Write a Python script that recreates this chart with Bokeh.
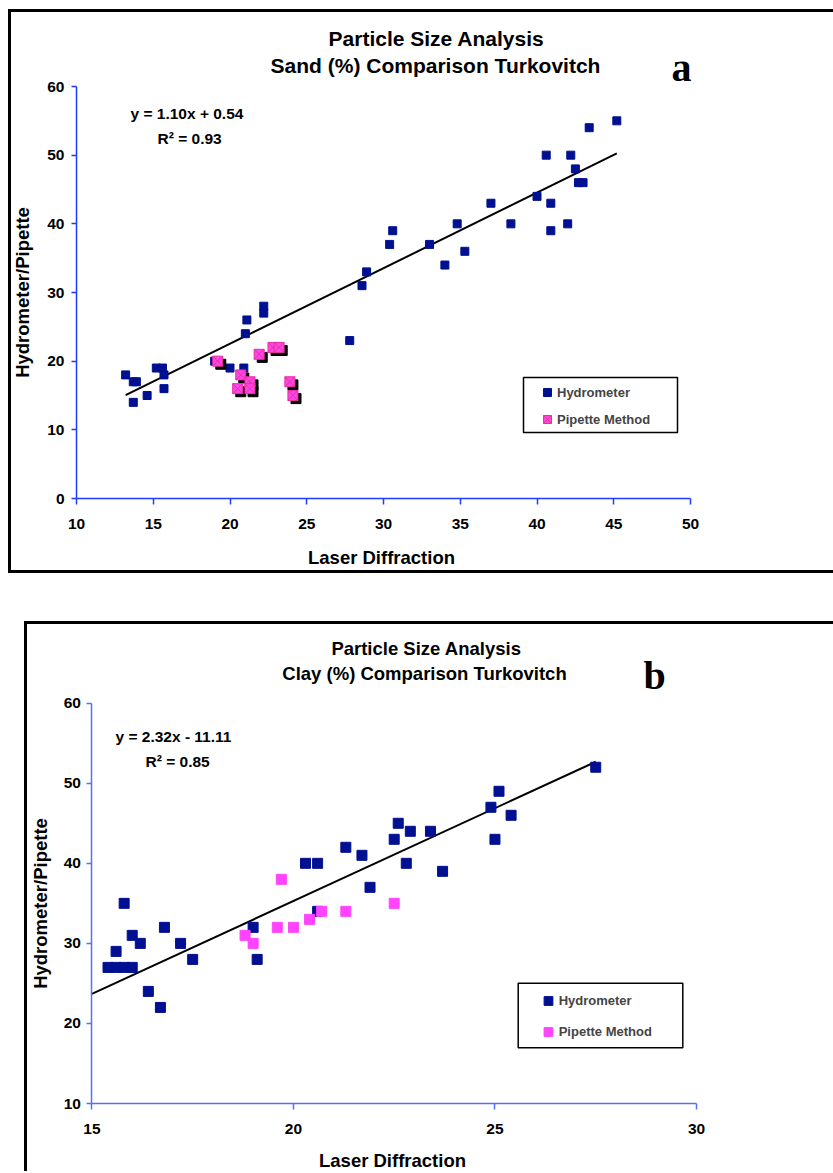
import math
from bokeh.plotting import figure
from bokeh.models import Range1d, FixedTicker, Label, BoxAnnotation, Legend, LegendItem, ColumnDataSource
from bokeh.transform import dodge
from bokeh.embed import file_html
from bokeh.resources import INLINE

# ---------------- data: (a) Sand (%) ----------------
sand_hydro_laser = [13.2, 13.7, 13.9, 13.7, 14.6, 15.2, 15.6, 15.7, 15.7, 19.0, 20.0, 20.9, 21.0, 21.1,
                    22.2, 22.2, 27.8, 28.6, 28.9, 30.4, 30.6, 33.0, 34.0, 34.8, 35.3, 37.0, 38.3, 40.0,
                    40.6, 40.9, 40.9, 42.0, 42.2, 42.5, 42.7, 43.0, 43.4, 45.2]
sand_hydro_hp = [18, 17, 17, 14, 15, 19, 19, 18, 16, 20, 19, 19, 24, 26,
                 28, 27, 23, 31, 33, 37, 39, 37, 34, 40, 36, 43, 40, 44,
                 50, 43, 39, 40, 50, 48, 46, 46, 54, 55]
sand_pip_laser = [19.2, 20.7, 20.5, 21.3, 21.3, 21.9, 22.8, 23.2, 23.9, 24.1]
sand_pip_hp = [20, 18, 16, 17, 16, 21, 22, 22, 17, 15]
sand_slope, sand_intercept, sand_r2 = 1.10, 0.54, 0.93
sand_xticks = [10, 15, 20, 25, 30, 35, 40, 45, 50]
sand_yticks = [0, 10, 20, 30, 40, 50, 60]

# ---------------- data: (b) Clay (%) ----------------
clay_hydro_laser = [15.8, 15.6, 15.4, 15.6, 15.8, 16.0, 16.0, 16.2, 16.4, 16.7, 16.8, 17.2, 17.5, 19.0,
                    19.1, 20.3, 20.6, 20.6, 21.3, 21.7, 21.9, 22.5, 22.6, 22.9, 22.8, 23.4, 23.7, 24.9,
                    25.0, 25.1, 25.4, 27.5]
clay_hydro_hp = [35, 29, 27, 27, 27, 27, 31, 30, 24, 22, 32, 30, 28, 32,
                 28, 40, 40, 34, 42, 41, 37, 43, 45, 44, 40, 44, 39, 47,
                 43, 49, 46, 52]
clay_pip_laser = [18.8, 19.0, 19.6, 19.7, 20.0, 20.4, 20.7, 21.3, 22.5]
clay_pip_hp = [31, 30, 32, 38, 32, 33, 34, 34, 35]
clay_slope, clay_intercept, clay_r2 = 2.32, -11.11, 0.85
clay_xticks = [15, 20, 25, 30]
clay_yticks = [10, 20, 30, 40, 50, 60]

FONT = "Liberation Sans"
NAVY = "#001090"


def eq_text(s, b):
    sign = "+" if b >= 0 else "-"
    return f"y = {s:.2f}x {sign} {abs(b):.2f}"


def span_range(v_lo, p_lo, v_hi, p_hi, size):
    """Range whose values land at canvas pixels p_lo/p_hi (pixels measured from the range start side)."""
    k = (v_hi - v_lo) / (p_hi - p_lo)
    return Range1d(v_lo - p_lo * k, v_lo + (size - p_lo) * k)


class Page:
    """Place annotations using page pixel positions (canvas origin ox, oy; height h)."""
    def __init__(self, p, ox, oy, h):
        self.p, self.ox, self.oy, self.h = p, ox, oy, h

    def sx(self, px):
        return px - self.ox

    def sy(self, py):
        return self.oy + self.h - py

    def text(self, text, px, py, size, align="left", font=FONT, angle=0.0):
        self.p.add_layout(Label(x=self.sx(px), y=self.sy(py), x_units="screen", y_units="screen",
                                text=text, text_font=font, text_font_style="bold",
                                text_font_size=size, text_align=align, text_baseline="middle",
                                text_color="black", angle=angle))

    def box(self, l, t, r, b):
        self.p.add_layout(BoxAnnotation(left=self.sx(l), right=self.sx(r), top=self.sy(t),
                                        bottom=self.sy(b), left_units="screen", right_units="screen",
                                        top_units="screen", bottom_units="screen", fill_alpha=0,
                                        line_color="black", line_width=1.5, line_alpha=1))


def style_axes(p, axis_color, xticks, yticks, xstand, ystand):
    p.xaxis.ticker = FixedTicker(ticks=xticks)
    p.yaxis.ticker = FixedTicker(ticks=yticks)
    p.xaxis.bounds = (xticks[0], xticks[-1])
    p.yaxis.bounds = (yticks[0], yticks[-1])
    p.xaxis.fixed_location = yticks[0]
    p.yaxis.fixed_location = xticks[0]
    p.xgrid.visible = False
    p.ygrid.visible = False
    p.outline_line_color = None
    p.border_fill_color = "white"
    for ax in (p.xaxis[0], p.yaxis[0]):
        ax.axis_line_color = axis_color
        ax.axis_line_width = 1.5
        ax.major_tick_line_color = axis_color
        ax.major_tick_line_width = 1.5
        ax.major_tick_in = 0
        ax.minor_tick_line_color = None
        ax.major_label_text_font = FONT
        ax.major_label_text_font_style = "bold"
        ax.major_label_text_font_size = "15.5px"
        ax.major_label_text_color = "black"
    p.xaxis.major_tick_out = 6
    p.yaxis.major_tick_out = 5
    p.xaxis.major_label_standoff = xstand
    p.yaxis.major_label_standoff = ystand


# ====================== chart a ======================
A_OX, A_OY, A_H = 11, 12, 558
A_W = 833 - A_OX
pa = figure(width=A_W, height=A_H,
            x_range=span_range(sand_xticks[0], 76 - A_OX, sand_xticks[-1], 690 - A_OX, A_W),
            y_range=span_range(sand_yticks[0], A_OY + A_H - 498, sand_yticks[-1], A_OY + A_H - 86, A_H),
            output_backend="svg", toolbar_location=None,
            min_border_left=0, min_border_right=0, min_border_top=0, min_border_bottom=0,
            styles={"margin-left": f"{A_OX}px", "margin-top": f"{A_OY}px", "vertical-align": "top",
                    "box-shadow": "-3px 0 0 0 #000, 0 -3px 0 0 #000, 0 3px 0 0 #000, "
                                  "-3px -3px 0 0 #000, -3px 3px 0 0 #000"})
style_axes(pa, "#1E3CFF", sand_xticks, sand_yticks, 14, 7)

xa_all = sand_hydro_laser + sand_pip_laser
xa_line = [min(xa_all), max(xa_all)]
pa.line(xa_line, [sand_slope * v + sand_intercept for v in xa_line], line_color="black", line_width=2)

src_ha = ColumnDataSource(dict(x=sand_hydro_laser, y=sand_hydro_hp))
src_pa = ColumnDataSource(dict(x=sand_pip_laser, y=sand_pip_hp))
rh_a = pa.scatter("x", "y", source=src_ha, marker="square", size=8, fill_color=NAVY, line_color=NAVY)
pa.scatter(dodge("x", 0.2), dodge("y", -0.45), source=src_pa, marker="square", size=10,
           fill_color="black", line_color="black")
rp_a = pa.scatter("x", "y", source=src_pa, marker="square_x", size=10, fill_color="#FF44E8",
                  line_color="#E8309F", line_width=1)

ga = Page(pa, A_OX, A_OY, A_H)
pa.add_layout(Legend(items=[LegendItem(label="Hydrometer", renderers=[rh_a]),
                            LegendItem(label="Pipette Method", renderers=[rp_a])],
                     location=(ga.sx(537), ga.sy(429)), border_line_color=None,
                     background_fill_alpha=0, padding=0, margin=0, spacing=7,
                     glyph_width=20, glyph_height=20, label_height=20, label_standoff=0,
                     label_text_font=FONT, label_text_font_style="bold", label_text_font_size="13px"))
ga.box(523, 377, 677, 432)
ga.text("Particle Size Analysis", 436, 38, "21px", "center")
ga.text("Sand (%) Comparison Turkovitch", 435, 65, "21px", "center")
ga.text("a", 681, 67, "40px", "center", font="Liberation Serif")
ga.text(eq_text(sand_slope, sand_intercept), 130, 113, "15.5px")
ga.text(f"R\u00b2 = {sand_r2:.2f}", 157, 138, "15.5px")
ga.text("Laser Diffraction", 381, 557, "18.5px", "center")
ga.text("Hydrometer/Pipette", 22, 292, "18.5px", "center", angle=math.pi / 2)

# ====================== chart b ======================
B_OX, B_OY, B_H = 27, 624, 547
B_W = 833 - B_OX
pb = figure(width=B_W, height=B_H,
            x_range=span_range(clay_xticks[0], 91.4 - B_OX, clay_xticks[-1], 696 - B_OX, B_W),
            y_range=span_range(clay_yticks[0], B_OY + B_H - 1103, clay_yticks[-1], B_OY + B_H - 702.7, B_H),
            output_backend="svg", toolbar_location=None,
            min_border_left=0, min_border_right=0, min_border_top=0, min_border_bottom=0,
            styles={"margin-left": f"{B_OX}px", "margin-top": f"{B_OY - A_OY - A_H}px",
                    "vertical-align": "top",
                    "box-shadow": "-3px 0 0 0 #000, 0 -3px 0 0 #000, -3px -3px 0 0 #000"})
style_axes(pb, "#5070FF", clay_xticks, clay_yticks, 14, 6)

xb_all = clay_hydro_laser + clay_pip_laser
xb_line = [clay_xticks[0], max(xb_all)]
pb.line(xb_line, [clay_slope * v + clay_intercept for v in xb_line], line_color="black", line_width=2)

rh_b = pb.scatter(clay_hydro_laser, clay_hydro_hp, marker="square", size=10, fill_color=NAVY, line_color=NAVY)
rp_b = pb.scatter(clay_pip_laser, clay_pip_hp, marker="square", size=10, fill_color="#FF44FF",
                  line_color="#FF44FF")

gb = Page(pb, B_OX, B_OY, B_H)
pb.add_layout(Legend(items=[LegendItem(label="Hydrometer", renderers=[rh_b]),
                            LegendItem(label="Pipette Method", renderers=[rp_b])],
                     location=(gb.sx(536.7), gb.sy(1044.2)), border_line_color=None,
                     background_fill_alpha=0, padding=0, margin=0, spacing=6,
                     glyph_width=22, glyph_height=25, label_height=25, label_standoff=0,
                     label_text_font=FONT, label_text_font_style="bold", label_text_font_size="13px"))
gb.box(517.7, 982.7, 682.3, 1047.3)
gb.text("Particle Size Analysis", 426, 648, "18.5px", "center")
gb.text("Clay (%) Comparison Turkovitch", 424, 673, "18.5px", "center")
gb.text("b", 654, 675, "40px", "center", font="Liberation Serif")
gb.text(eq_text(clay_slope, clay_intercept), 115, 736, "15.5px")
gb.text(f"R\u00b2 = {clay_r2:.2f}", 145, 761, "15.5px")
gb.text("Laser Diffraction", 392, 1160, "18.5px", "center")
gb.text("Hydrometer/Pipette", 40, 903, "18.5px", "center", angle=math.pi / 2)

open("out.html", "w").write(file_html([pa, pb], INLINE))
